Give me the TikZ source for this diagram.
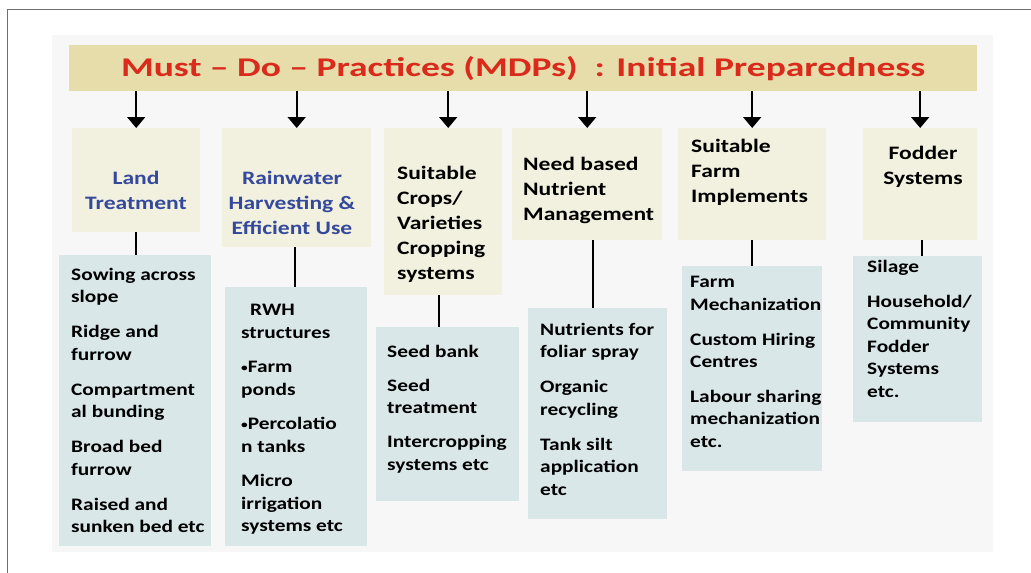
\documentclass[tikz,border=0pt]{standalone}
\usepackage{fontspec}
\setmainfont{Carlito}
\newfontfamily\titlefont[FakeStretch=1.39,Ligatures=TeX]{Carlito}
\newfontfamily\headfont[FakeStretch=1.24,Ligatures=TeX]{Carlito}
\newfontfamily\bodyfont[FakeStretch=1.22,Ligatures=TeX]{Carlito}
\usetikzlibrary{arrows.meta,calc}
\definecolor{slidebg}{HTML}{F7F7F7}
\definecolor{titlebar}{HTML}{E6DDAA}
\definecolor{topbox}{HTML}{F2F0DE}
\definecolor{botbox}{HTML}{D9E7E9}
\definecolor{titlered}{HTML}{D92A1C}
\definecolor{headblue}{HTML}{34499C}
\definecolor{framegray}{HTML}{707070}
\newcommand{\smbul}{{\fontsize{11}{11}\selectfont\raisebox{1.5pt}{\textbullet}}}
\tikzset{
  tbox/.style={fill=topbox,draw=none},
  bbox/.style={fill=botbox,draw=none},
  headtext/.style={font=\headfont\bfseries\fontsize{19}{25}\selectfont,inner sep=0pt},
  bodytext/.style={font=\bodyfont\bfseries\fontsize{17.5}{22.5}\selectfont,inner sep=0pt,align=left,anchor=north west},
  arr/.style={line width=1.8pt,-{Triangle[width=18pt,length=11pt]}},
  conn/.style={line width=1.8pt}
}
\begin{document}
\begin{tikzpicture}[x=1pt,y=-1pt]
\useasboundingbox (0,0) rectangle (1031,573);
\fill[white] (0,0) rectangle (1031,573);
\draw[framegray,line width=1pt] (7,573) -- (7,9) -- (1031,9);
\fill[slidebg] (52,35) rectangle (993,552);
% title
\node[fill=titlebar,minimum width=908pt,minimum height=46pt,inner sep=0pt,anchor=north west,
  text=titlered,font=\titlefont\bfseries\fontsize{27}{30}\selectfont] (title) at (69,45)
  {Must – Do – Practices (MDPs) \ : Initial Preparedness};
% top boxes
\node[tbox,minimum width=128pt,minimum height=104pt,anchor=north west] (t1) at (72,128) {};
\node[tbox,minimum width=149pt,minimum height=119pt,anchor=north west] (t2) at (222,128) {};
\node[tbox,minimum width=118pt,minimum height=167pt,anchor=north west] (t3) at (384,128) {};
\node[tbox,minimum width=150pt,minimum height=112pt,anchor=north west] (t4) at (512,128) {};
\node[tbox,minimum width=148pt,minimum height=112pt,anchor=north west] (t5) at (678,128) {};
\node[tbox,minimum width=114pt,minimum height=112pt,anchor=north west] (t6) at (863,128) {};
% top texts
\node[headtext,text=headblue,align=center,anchor=north] (h1) at (136,171) {Land\\Treatment};
\node[headtext,text=headblue,align=center,anchor=north] (h2) at (292,171) {Rainwater\\Harvesting \&\\Efficient Use};
\node[headtext,align=left,anchor=north west] (h3) at (397,166) {Suitable\\Crops/\\Varieties\\Cropping\\systems};
\node[headtext,align=left,anchor=north west] (h4) at (523,157) {Need based\\Nutrient\\Management};
\node[headtext,align=left,anchor=north west] (h5) at (691,139) {Suitable\\Farm\\Implements};
\node[headtext,align=center,anchor=north] (h6) at (923,146) {Fodder\\Systems};
% bottom boxes
\node[bbox,minimum width=152pt,minimum height=291pt,anchor=north west] (b1) at (59,255) {};
\node[bbox,minimum width=142pt,minimum height=259pt,anchor=north west] (b2) at (225,287) {};
\node[bbox,minimum width=143pt,minimum height=174pt,anchor=north west] (b3) at (376,327) {};
\node[bbox,minimum width=139pt,minimum height=211pt,anchor=north west] (b4) at (528,308) {};
\node[bbox,minimum width=140pt,minimum height=205pt,anchor=north west] (b5) at (682,266) {};
\node[bbox,minimum width=129pt,minimum height=166pt,anchor=north west] (b6) at (853,256) {};
% bottom texts
\node[bodytext] (x1) at (71,268) {Sowing across\\slope\\[12.5pt]Ridge and\\furrow\\[12.5pt]Compartment\\al bunding\\[12.5pt]Broad bed\\furrow\\[12.5pt]Raised and\\sunken bed etc};
\node[bodytext] (x2) at (241,304) {\hspace*{9pt}RWH\\structures\\[12pt]\smbul Farm\\ponds\\[12pt]\smbul Percolatio\\n tanks\\[12pt]Micro\\irrigation\\systems etc};
\node[bodytext] (x3) at (387,345) {Seed bank\\[11.5pt]Seed\\treatment\\[11.5pt]Intercropping\\systems etc};
\node[bodytext] (x4) at (540,323) {Nutrients for\\foliar spray\\[12.5pt]Organic\\recycling\\[12.5pt]Tank silt\\application\\etc};
\node[bodytext] (x5) at (690,276) {Farm\\Mechanization\\[12.5pt]Custom Hiring\\Centres\\[12pt]Labour sharing\\mechanization\\etc.};
\node[bodytext] (x6) at (867,260) {Silage\\[12.5pt]Household/\\Community\\Fodder\\Systems\\etc.};
% arrows from title
\draw[arr] (title.south -| t1.north) -- (t1.north);
\draw[arr] (title.south -| t2.north) -- (t2.north);
\draw[arr] ([xshift=5pt]title.south -| t3.north) -- ([xshift=5pt]t3.north);
\draw[arr] (title.south -| t4.north) -- (t4.north);
\draw[arr] (title.south -| t5.north) -- (t5.north);
\draw[arr] (title.south -| t6.north) -- (t6.north);
% connectors top -> bottom
\draw[conn] (t1.south) -- (t1.south |- b1.north);
\draw[conn] ([xshift=-2pt]t2.south) -- ([xshift=-2pt]t2.south |- b2.north);
\draw[conn] ([xshift=-4pt]t3.south) -- ([xshift=-4pt]t3.south |- b3.north);
\draw[conn] ([xshift=6pt]t4.south) -- ([xshift=6pt]t4.south |- b4.north);
\draw[conn] (t5.south) -- (t5.south |- b5.north);
\draw[conn] ([xshift=2pt]t6.south) -- ([xshift=2pt]t6.south |- b6.north);
\end{tikzpicture}
\end{document}
